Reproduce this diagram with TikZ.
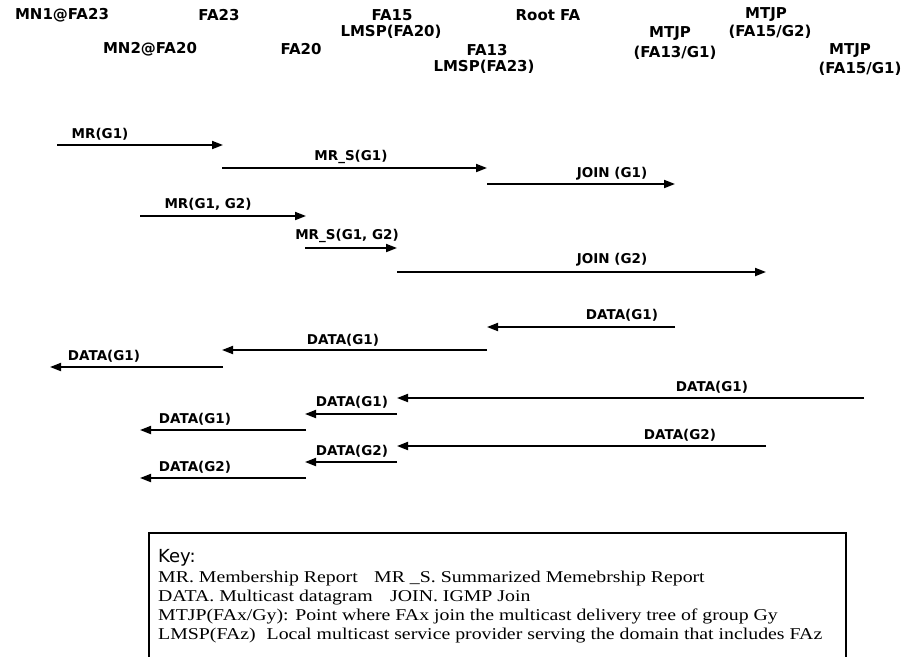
\documentclass[tikz,border=0pt]{standalone}
\usepackage{fontspec}
\setmainfont{Liberation Serif}
\newfontfamily\hdfont{DejaVu Sans}
\usetikzlibrary{arrows.meta}
\newcommand{\wide}[1]{\scalebox{1.2}[1]{#1}}
\begin{document}
\begin{tikzpicture}[x=1pt,y=-1pt,
  hdr/.style={font=\hdfont\bfseries\fontsize{15}{16}\selectfont, inner sep=0pt, anchor=center},
  lbl/.style={font=\hdfont\bfseries\fontsize{13.5}{14}\selectfont, inner sep=0pt, anchor=center},
  msg/.style={line width=1.9pt, -{Triangle[length=11pt,width=8pt]}},
  keytxt/.style={font=\fontsize{16.5}{18}\selectfont, inner sep=0pt, anchor=base west},
  keybox/.style={line width=1.3pt}]
\useasboundingbox (0,0) rectangle (912,656);
% header labels
\node[hdr] (mn1) at (62,15) {MN1@FA23};
\node[hdr] (fa23) at (219,15) {FA23};
\node[hdr] (fa15) at (392,15) {FA15};
\node[hdr] (root) at (548,15) {Root FA};
\node[hdr] (mtjpa) at (766,15) {MTJP};
\node[hdr] (lmspa) at (391,32) {LMSP(FA20)};
\node[hdr] (mtjpb) at (670,34) {MTJP};
\node[hdr] (fa15g2) at (770,32) {(FA15/G2)};
\node[hdr] (mn2) at (150,49) {MN2@FA20};
\node[hdr] (fa20) at (301,49) {FA20};
\node[hdr] (fa13) at (487,50) {FA13};
\node[hdr] (fa13g1) at (675,53) {(FA13/G1)};
\node[hdr] (mtjpc) at (850,51) {MTJP};
\node[hdr] (lmspb) at (484,67) {LMSP(FA23)};
\node[hdr] (fa15g1) at (860,69) {(FA15/G1)};
% message endpoints
\coordinate (m1s) at (57,145);  \coordinate (m1e) at (223,145);
\coordinate (m2s) at (222,168); \coordinate (m2e) at (487,168);
\coordinate (m3s) at (487,184); \coordinate (m3e) at (675,184);
\coordinate (m4s) at (140,216); \coordinate (m4e) at (306,216);
\coordinate (m5s) at (305,248); \coordinate (m5e) at (397,248);
\coordinate (m6s) at (397,272); \coordinate (m6e) at (766,272);
\coordinate (d1s) at (675,327); \coordinate (d1e) at (487,327);
\coordinate (d2s) at (487,350); \coordinate (d2e) at (222,350);
\coordinate (d3s) at (223,367); \coordinate (d3e) at (50,367);
\coordinate (d4s) at (864,398); \coordinate (d4e) at (397,398);
\coordinate (d5s) at (397,414); \coordinate (d5e) at (305,414);
\coordinate (d6s) at (306,430); \coordinate (d6e) at (140,430);
\coordinate (d7s) at (766,446); \coordinate (d7e) at (397,446);
\coordinate (d8s) at (397,462); \coordinate (d8e) at (305,462);
\coordinate (d9s) at (306,478); \coordinate (d9e) at (140,478);
\foreach \a in {m1,m2,m3,m4,m5,m6,d1,d2,d3,d4,d5,d6,d7,d8,d9}
  {\draw[msg] (\a s) -- (\a e);}
% message labels
\node[lbl] (l1) at (100,134) {MR(G1)};
\node[lbl] (l2) at (351,157) {MR\_S(G1)};
\node[lbl] (l3) at (612,174) {JOIN (G1)};
\node[lbl] (l4) at (208,204) {MR(G1, G2)};
\node[lbl] (l5) at (347,236) {MR\_S(G1, G2)};
\node[lbl] (l6) at (612,260) {JOIN (G2)};
\node[lbl] (k1) at (622,315) {DATA(G1)};
\node[lbl] (k2) at (343,340) {DATA(G1)};
\node[lbl] (k3) at (104,356) {DATA(G1)};
\node[lbl] (k4) at (712,387) {DATA(G1)};
\node[lbl] (k5) at (352,402) {DATA(G1)};
\node[lbl] (k6) at (195,419) {DATA(G1)};
\node[lbl] (k7) at (680,435) {DATA(G2)};
\node[lbl] (k8) at (352,451) {DATA(G2)};
\node[lbl] (k9) at (195,467) {DATA(G2)};
% key
\draw[keybox] (149,662) -- (149,533) -- (846,533) -- (846,662);
\node[anchor=base west, inner sep=0pt, font=\hdfont\fontsize{18}{20}\selectfont] (key) at (158,562) {Key:};
\node[keytxt] (kt1a) at (158,582) {\wide{MR. Membership Report}};
\node[keytxt] (kt1b) at (374,582) {\wide{MR \_S. Summarized Memebrship Report}};
\node[keytxt] (kt2a) at (158,601) {\wide{DATA. Multicast datagram}};
\node[keytxt] (kt2b) at (390,601) {\wide{JOIN. IGMP Join}};
\node[keytxt] (kt3) at (158,620) {\wide{MTJP(FAx/Gy): Point where FAx join the multicast delivery tree of group Gy}};
\node[keytxt] (kt4) at (158,639) {\wide{LMSP(FAz)\hspace{5pt} Local multicast service provider serving the domain that includes FAz}};
\end{tikzpicture}
\end{document}
